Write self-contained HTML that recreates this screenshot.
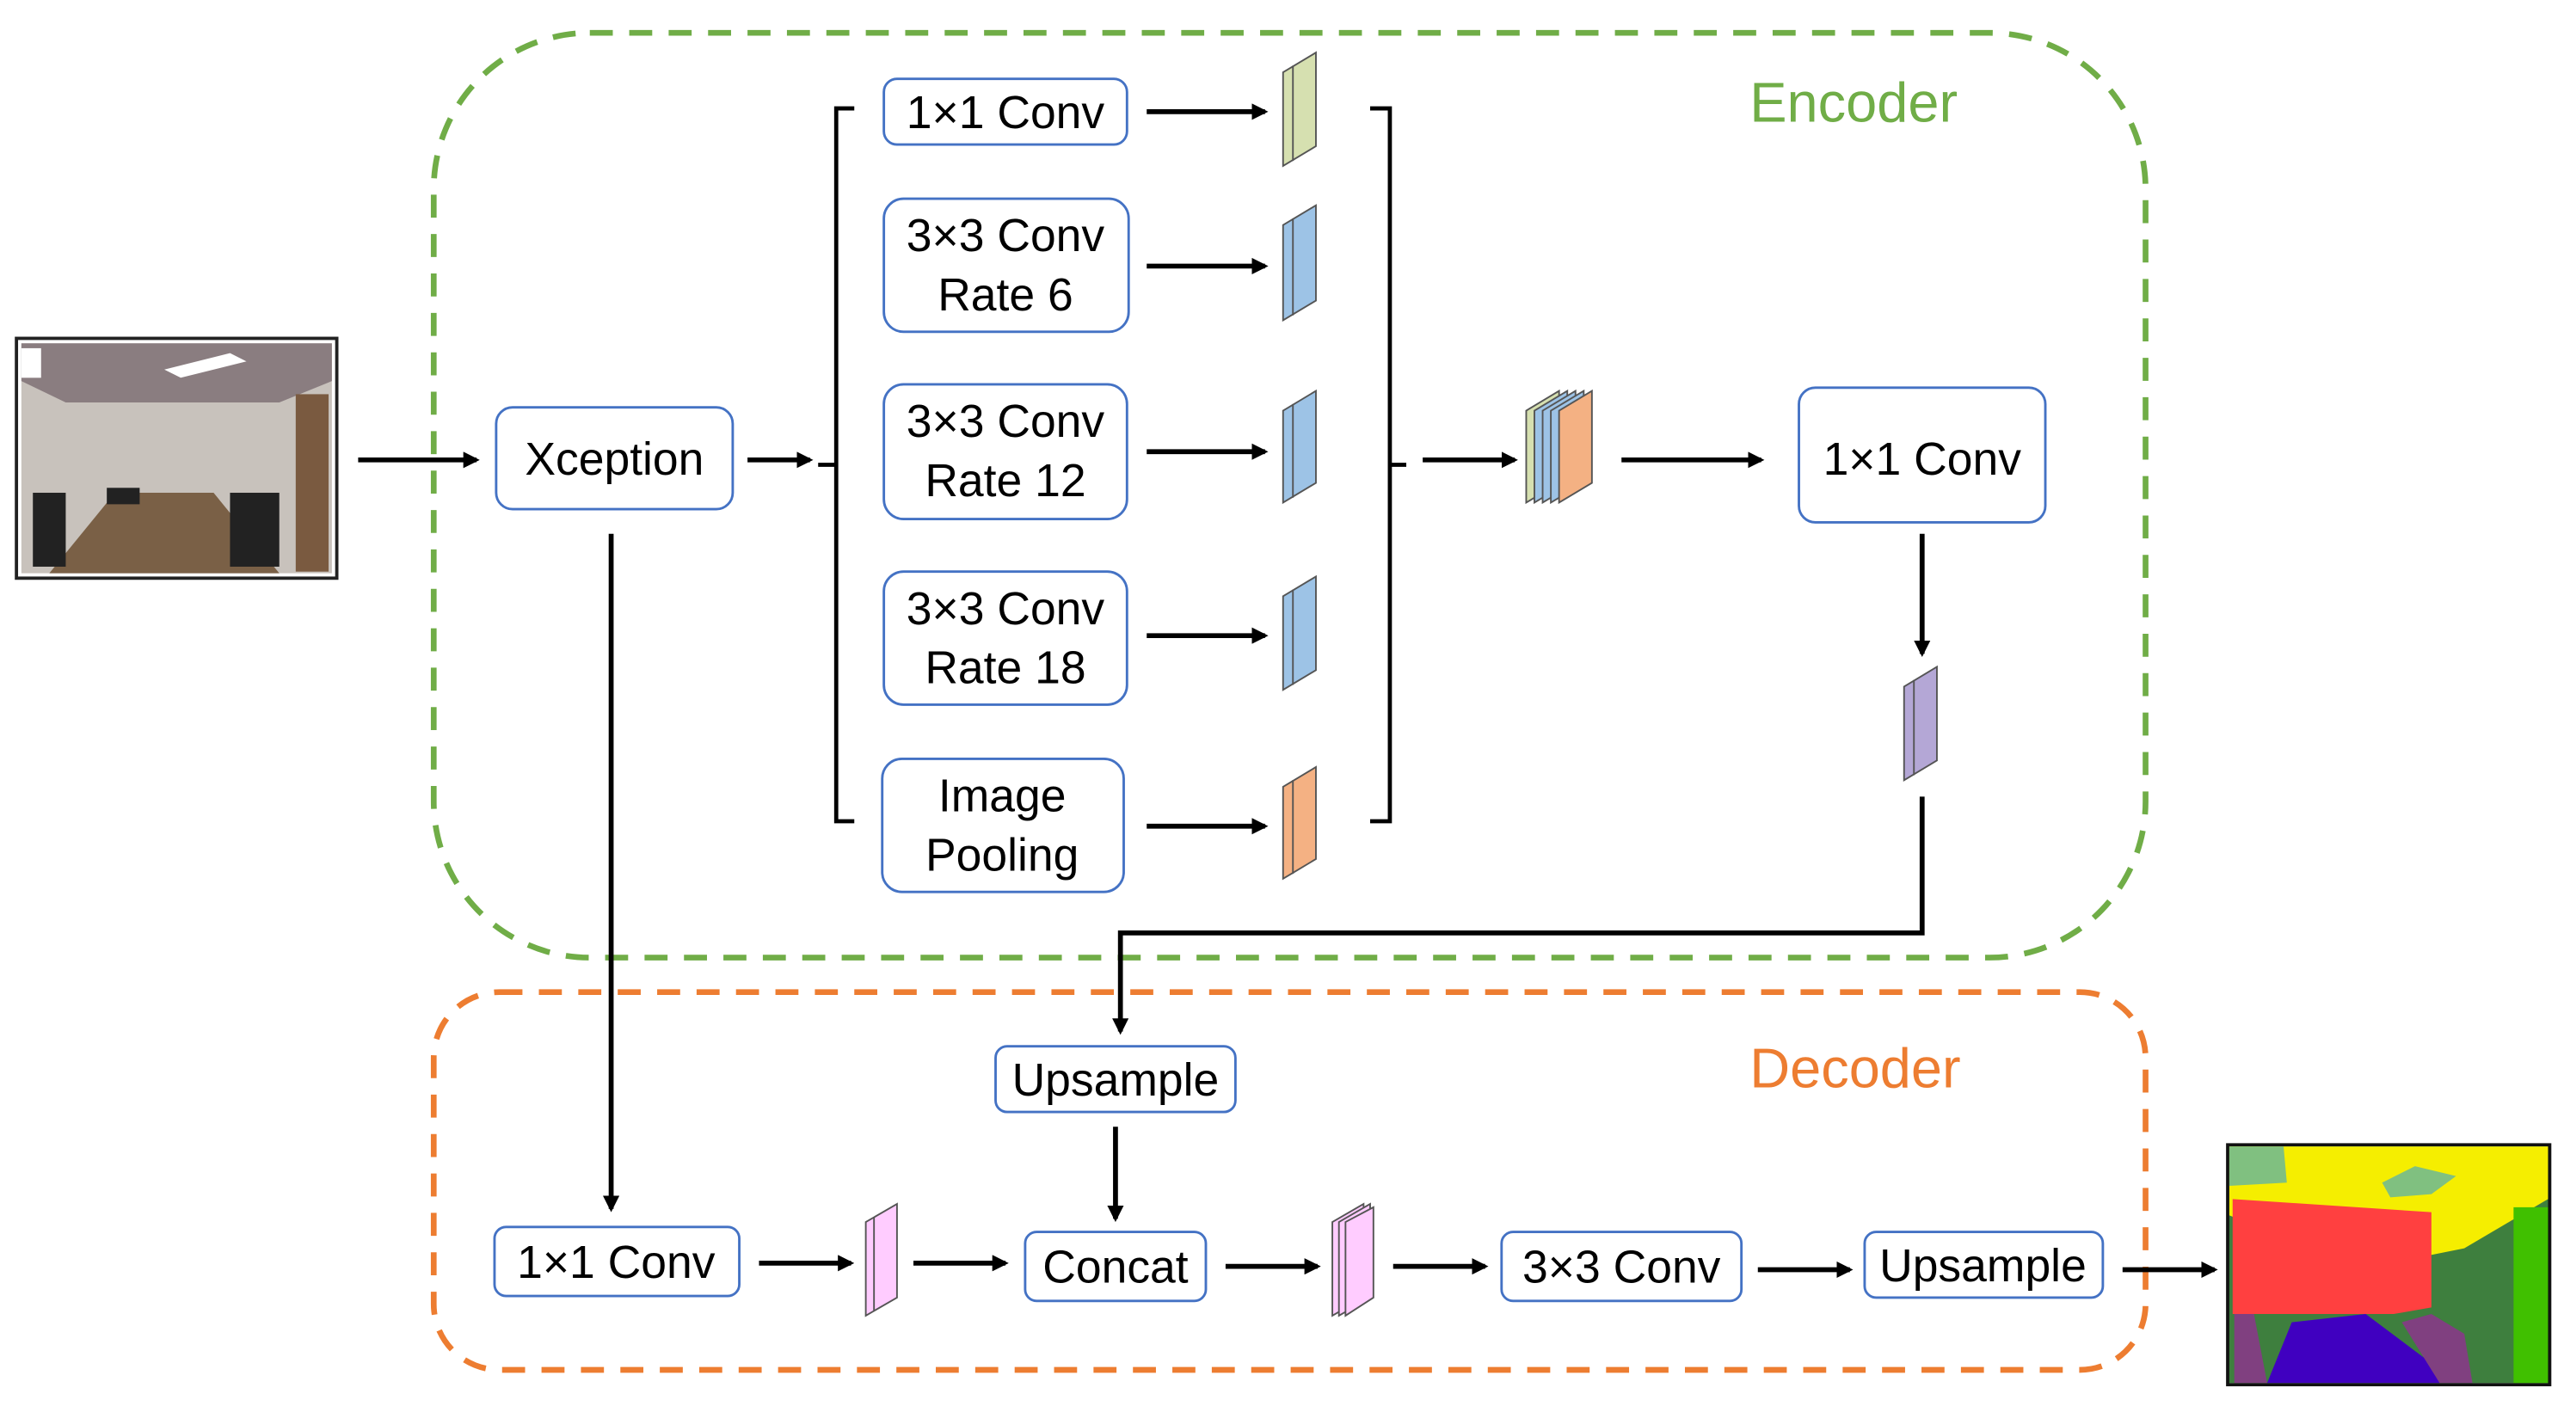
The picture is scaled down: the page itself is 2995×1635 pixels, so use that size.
<!DOCTYPE html>
<html><head><meta charset="utf-8"><style>
html,body{margin:0;padding:0;background:#fff;}
svg{display:block;}
text{font-family:"Liberation Sans",sans-serif;}
</style></head><body>
<svg width="2995" height="1635" viewBox="0 0 1568 856" xmlns="http://www.w3.org/2000/svg">
<defs>
<marker id="a" markerWidth="10" markerHeight="10" refX="8" refY="5" orient="auto" markerUnits="userSpaceOnUse">
<path d="M0,0 L10,5 L0,10 Z" fill="#000"/></marker>
</defs>
<rect width="1568" height="856" fill="#fff"/>
<rect x="264" y="20" width="1042" height="563" rx="95" fill="none" stroke="#70ad47" stroke-width="3.5" stroke-dasharray="14,10"/>
<rect x="264" y="604" width="1042" height="230" rx="40" fill="none" stroke="#ed7d31" stroke-width="3.5" stroke-dasharray="14,10"/>
<text x="1065" y="74" font-size="34" fill="#70ad47">Encoder</text>
<text x="1065" y="662" font-size="34" fill="#ed7d31">Decoder</text>

<rect x="10" y="206" width="195" height="146" fill="#fff" stroke="#222" stroke-width="2"/>
<rect x="13" y="209" width="189" height="140" fill="#c8c2bc"/>
<polygon points="13,209 202,209 202,232 170,245 40,245 13,232" fill="#8a7d80"/>
<polygon points="100,225 140,215 150,220 110,230" fill="#fff"/>
<rect x="13" y="212" width="12" height="18" fill="#fff"/>
<rect x="180" y="240" width="20" height="108" fill="#7a5a40"/>
<polygon points="30,349 70,300 130,300 170,349" fill="#7a6046"/>
<rect x="20" y="300" width="20" height="45" fill="#222"/>
<rect x="140" y="300" width="30" height="45" fill="#222"/>
<rect x="65" y="297" width="20" height="10" fill="#222"/>

<g stroke="#000" stroke-width="3" fill="none" marker-end="url(#a)">
<line x1="218" y1="280" x2="290" y2="280"/>
<line x1="455" y1="280" x2="493" y2="280"/>
<line x1="698" y1="68" x2="770" y2="68"/>
<line x1="698" y1="162" x2="770" y2="162"/>
<line x1="698" y1="275" x2="770" y2="275"/>
<line x1="698" y1="387" x2="770" y2="387"/>
<line x1="698" y1="503" x2="770" y2="503"/>
<line x1="866" y1="280" x2="922" y2="280"/>
<line x1="987" y1="280" x2="1072" y2="280"/>
<line x1="1170" y1="325" x2="1170" y2="398"/>
<polyline points="1170,485 1170,568 682,568 682,628"/>
<line x1="679" y1="686" x2="679" y2="742"/>
<line x1="372" y1="325" x2="372" y2="736"/>
<line x1="462" y1="769" x2="518" y2="769"/>
<line x1="556" y1="769" x2="612" y2="769"/>
<line x1="746" y1="771" x2="802" y2="771"/>
<line x1="848" y1="771" x2="904" y2="771"/>
<line x1="1070" y1="773" x2="1126" y2="773"/>
<line x1="1292" y1="773" x2="1348" y2="773"/>
</g>
<g stroke="#000" stroke-width="2.5" fill="none">
<polyline points="520,66 509,66 509,500 520,500"/>
<line x1="498" y1="283" x2="509" y2="283"/>
<polyline points="834,66 846,66 846,500 834,500"/>
<line x1="846" y1="283" x2="856" y2="283"/>
</g>

<g fill="#fff" stroke="#4472c4" stroke-width="1.5">
<rect x="302" y="248" width="144" height="62" rx="10"/>
<rect x="538" y="48" width="148" height="40" rx="8"/>
<rect x="538" y="121" width="149" height="81" rx="12"/>
<rect x="538" y="234" width="148" height="82" rx="12"/>
<rect x="538" y="348" width="148" height="81" rx="12"/>
<rect x="537" y="462" width="147" height="81" rx="12"/>
<rect x="1095" y="236" width="150" height="82" rx="10"/>
<rect x="606" y="637" width="146" height="40" rx="7"/>
<rect x="624" y="750" width="110" height="42" rx="7"/>
<rect x="301" y="747" width="149" height="42" rx="7"/>
<rect x="914" y="750" width="146" height="42" rx="7"/>
<rect x="1135" y="750" width="145" height="40" rx="7"/>
</g>
<g font-size="28" fill="#000" text-anchor="middle">
<text x="374" y="289">Xception</text>
<text x="612" y="78">1×1 Conv</text>
<text x="612" y="153">3×3 Conv</text>
<text x="612" y="189">Rate 6</text>
<text x="612" y="266">3×3 Conv</text>
<text x="612" y="302">Rate 12</text>
<text x="612" y="380">3×3 Conv</text>
<text x="612" y="416">Rate 18</text>
<text x="610" y="494">Image</text>
<text x="610" y="530">Pooling</text>
<text x="1170" y="289">1×1 Conv</text>
<text x="679" y="667">Upsample</text>
<text x="679" y="781">Concat</text>
<text x="375" y="778">1×1 Conv</text>
<text x="987" y="781">3×3 Conv</text>
<text x="1207" y="780">Upsample</text>
</g>

<g stroke="#555" stroke-width="1">
<polygon points="781,44 801,32 801,89 781,101" fill="#d6e0b0"/><line x1="787" y1="40" x2="787" y2="98"/>
<polygon points="781,137 801,125 801,183 781,195" fill="#9dc3e6"/><line x1="787" y1="133" x2="787" y2="192"/>
<polygon points="781,250 801,238 801,294 781,306" fill="#9dc3e6"/><line x1="787" y1="246" x2="787" y2="303"/>
<polygon points="781,363 801,351 801,408 781,420" fill="#9dc3e6"/><line x1="787" y1="359" x2="787" y2="417"/>
<polygon points="781,479 801,467 801,523 781,535" fill="#f4b183"/><line x1="787" y1="475" x2="787" y2="532"/>
<polygon points="929,250 949,238 949,294 929,306" fill="#d6e0b0"/>
<polygon points="934,250 954,238 954,294 934,306" fill="#9dc3e6"/>
<polygon points="939,250 959,238 959,294 939,306" fill="#9dc3e6"/>
<polygon points="944,250 964,238 964,294 944,306" fill="#9dc3e6"/>
<polygon points="949,250 969,238 969,294 949,306" fill="#f4b183"/>
<polygon points="1159,418 1179,406 1179,463 1159,475" fill="#b4a7d6"/><line x1="1165" y1="414" x2="1165" y2="472"/>
<polygon points="527,744 546,733 546,790 527,801" fill="#ffccff"/><line x1="532" y1="741" x2="532" y2="798"/>
<polygon points="811,744 830,733 830,790 811,801" fill="#ffccff"/>
<polygon points="815,744 834,733 834,790 815,801" fill="#ffccff"/>
<polygon points="819,744 836,735 836,790 819,801" fill="#ffccff"/>
</g>

<rect x="1356" y="697" width="196" height="146" fill="#fff" stroke="#111" stroke-width="2"/>
<rect x="1357" y="698" width="194" height="144" fill="#3e7f3e"/>
<polygon points="1357,698 1551,698 1551,730 1500,760 1440,772 1357,740" fill="#f5ee00"/>
<polygon points="1357,698 1390,698 1392,720 1357,722" fill="#80c080"/>
<polygon points="1450,720 1470,710 1495,716 1480,727 1455,729" fill="#80c080"/>
<polygon points="1359,730 1480,738 1480,796 1457,800 1359,800" fill="#ff4040"/>
<polygon points="1380,842 1395,805 1440,800 1480,830 1485,842" fill="#4000c0"/>
<rect x="1530" y="735" width="21" height="107" fill="#40c000"/>
<polygon points="1360,800 1372,800 1380,842 1360,842" fill="#804080"/>
<polygon points="1462,805 1480,800 1500,812 1505,842 1485,842" fill="#804080"/>
</svg>
</body></html>
